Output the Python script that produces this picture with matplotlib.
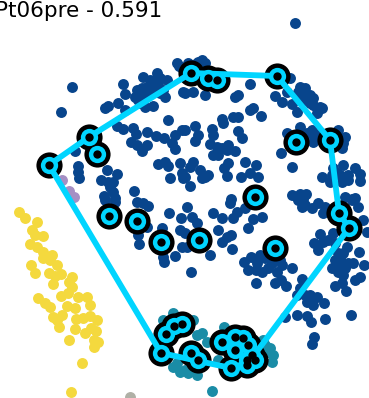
import matplotlib
matplotlib.use("Agg")
import matplotlib.pyplot as plt

# zoom-space readings converted below (crop offset, scale 3)
nav_a = [(215,262),(182,335),(369,251),(375,281),(315,323),(325,318),(354,309),(375,331),(410,270),(405,290),(415,300),(430,230),(450,240),(470,220),(440,260),(460,265),(480,280),(495,292),(500,240),(430,285),(435,320),(458,318),(537,197),(548,275),(504,361),(352,378),(368,388),(398,385),(408,402),(440,397),(467,407),(493,415),(525,405),(545,390),(515,430),(525,448),(393,426),(410,435),(427,453),(440,435),(475,493),(495,485),(503,497),(510,535),(540,490),(545,520),(550,535),(233,498),(234,515),(237,533),(226,453),(320,510),(350,522),(303,540),(325,545),(340,545),(330,560),(340,575),(313,588),(345,595),(403,574),(415,275),(425,265),(445,275),(455,250),(475,255),(490,270),(420,310),(465,240),(480,235),(545,205),(530,190)]
nav_b = [(330,69),(160,285),(150,290),(195,253),(270,287),(290,305),(345,260),(360,265),(340,275),(375,285),(385,295),(320,312),(337,335),(360,300),(385,315),(405,320),(412,325),(395,340),(305,275),(315,233),(205,325),(195,330),(228,349),(145,350),(158,351),(110,358),(115,368),(30,378),(38,405),(30,423),(82,388),(85,405),(158,392),(172,413),(130,435),(125,450),(150,452),(75,432),(95,440),(85,465),(100,465),(110,445),(287,460),(320,502),(180,485),(212,495),(130,490),(118,505),(125,527),(195,518),(168,530),(220,530),(45,510),(70,525),(50,535),(60,530),(25,487),(15,500),(0,530),(15,558),(0,390),(60,285),(25,275),(0,280),(60,190),(35,190),(345,380),(305,398),(380,390),(395,405),(365,400),(460,390),(480,410),(475,430),(470,445),(385,425),(410,530),(445,505),(475,495),(510,503),(525,523),(525,543),(490,540),(470,545),(435,545),(440,525),(465,525),(320,585),(345,583),(362,582),(355,598),(500,598),(138,598),(480,590),(510,595),(395,325),(375,310),(350,290),(40,185),(50,180),(10,190),(20,195),(375,400),(450,405),(455,520),(490,525)]
nav_c = [(507,40),(543,55),(487,83),(540,90),(415,105),(417,131),(545,140),(525,167),(493,187),(490,170),(440,80),(315,0),(345,5),(410,5),(430,10),(445,18)]
nav_d = [(7,20),(20,50),(35,70),(83,40),(110,55),(145,55),(155,35),(180,25),(135,10),(230,50),(205,58),(190,83),(98,90),(138,105),(125,110),(112,127),(140,147),(75,165),(18,215),(0,100),(5,140),(197,170),(178,187),(190,210),(212,210),(232,217),(213,248),(225,165),(260,190),(275,215),(290,195),(322,205),(270,248),(287,240),(303,258),(215,190),(352,238),(345,265),(360,285),(370,300),(385,315),(395,290),(417,310),(335,285),(300,350),(335,346),(365,347),(378,365),(420,356),(497,345),(388,412),(380,432),(350,20),(380,25),(400,10),(420,20),(415,40),(360,15),(340,0),(500,0),(520,20),(535,60),(545,95),(405,102),(388,130),(400,150),(430,120),(445,100),(450,130),(485,140),(523,155),(460,160),(450,180),(440,205),(470,190),(490,190),(505,190),(536,195),(475,225),(525,230),(510,240),(450,258),(483,272),(470,250),(240,175),(250,205),(265,170),(285,180),(365,305),(375,285),(455,195),(465,175),(475,160),(480,205),(460,215),(415,125)]
yel = [(57,35),(75,55),(110,65),(95,90),(105,105),(130,108),(90,132),(110,140),(130,155),(155,165),(130,175),(150,180),(170,195),(93,195),(105,220),(147,218),(165,228),(183,222),(215,230),(208,245),(158,253),(215,262),(205,278),(183,287),(235,290),(260,290),(270,315),(114,295),(135,310),(150,320),(200,317),(225,323),(160,350),(185,345),(170,360),(228,357),(248,355),(270,347),(292,360),(177,382),(225,387),(255,400),(272,385),(287,393),(207,420),(283,420),(295,425),(283,440),(245,490),(212,577)]
navy_x = [p[0]/3 for p in nav_a] + [185+p[0]/3 for p in nav_b] + [p[0]/3 for p in nav_c] + [185+p[0]/3 for p in nav_d]
navy_y = [p[1]/3 for p in nav_a] + [p[1]/3 for p in nav_b] + [200+p[1]/3 for p in nav_c] + [200+p[1]/3 for p in nav_d]
yellow_x = [p[0]/3 for p in yel]
yellow_y = [200+p[1]/3 for p in yel]
teal_x = [212,224,202,197,193,207,273,272,270,263,185,197,188,218,192,163,173,177,180,173,268,265]
teal_y = [391,327,333,335,320,342,355,362,348,340,370,375,373,360,367,320,313,363,372,367,352,345]
purple_x = [62,69,74]
purple_y = [180,191,197]
gray_x = [130]
gray_y = [397]
hull_x = [49,89,191,277,330,339,349,249,231,161,49]
hull_y = [165,137,73,76,140,213,228,362,368,353,165]
ring_x = [49,89,97,109,137,161,199,255,275,296,330,339,349,277,191,208,217,161,166,174,182,191,198,222,235,243,248,235,252,247,255,247,231]
ring_y = [165,137,154,216,221,242,240,197,248,142,140,213,228,76,73,78,80,353,334,326,324,353,360,342,337,338,345,350,355,360,360,365,368]

fig = plt.figure(figsize=(3.69, 3.98), dpi=100)
ax = fig.add_axes([0, 0, 1, 1])
ax.set_xlim(0, 369)
ax.set_ylim(398, 0)
ax.axis("off")

size = 62
ax.scatter(teal_x, teal_y, s=size, c="#1a8ca6", lw=0, zorder=2)
ax.scatter(gray_x, gray_y, s=size, c="#b0b0a6", lw=0, zorder=2)
ax.scatter(purple_x, purple_y, s=size, c="#a58fc4", lw=0, zorder=2)
ax.scatter(yellow_x, yellow_y, s=size, c="#f4d93e", lw=0, zorder=2)
ax.scatter(navy_x, navy_y, s=size, c="#08458c", lw=0, zorder=2)
ax.scatter(ring_x, ring_y, s=355, c="black", lw=0, zorder=3)
ax.plot(hull_x, hull_y, color="#00d5ff", lw=4.2, zorder=4, solid_capstyle="round", solid_joinstyle="round")
ax.scatter(ring_x, ring_y, s=155, c="#00d5ff", lw=0, zorder=5)
ax.scatter(ring_x, ring_y, s=36, c="black", lw=0, zorder=6)

fig.text(-5/369, 1-17/398, "Pt06pre - 0.591", fontsize=15.5, color="black", ha="left", va="baseline")
fig.savefig("out.png", dpi=100)
